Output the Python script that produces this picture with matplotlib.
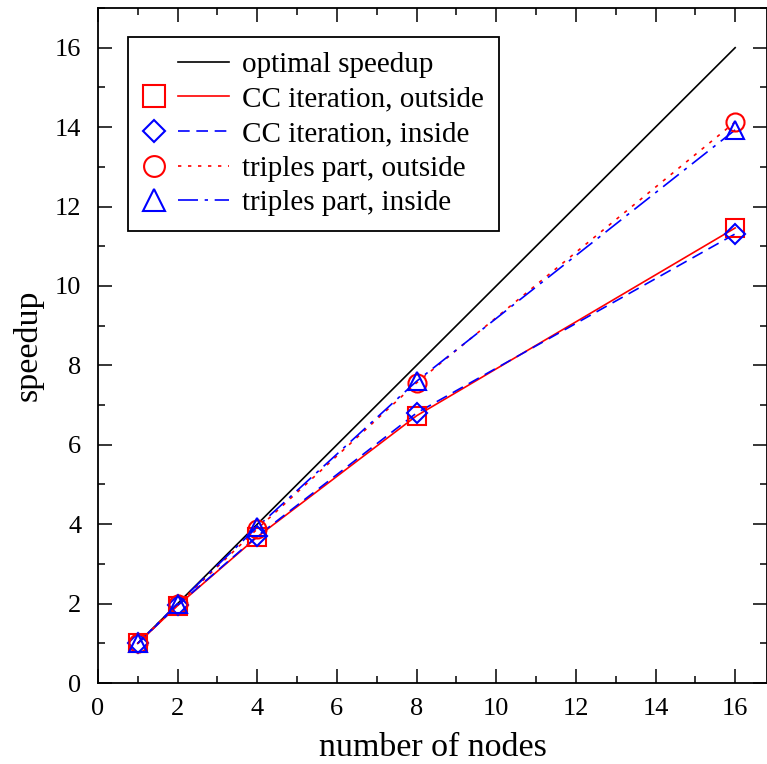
import matplotlib
matplotlib.use("Agg")
import matplotlib.pyplot as plt
from matplotlib.lines import Line2D
from matplotlib.legend_handler import HandlerBase
from matplotlib.ticker import MultipleLocator

nodes = [1, 2, 4, 8, 16]
optimal = [1, 2, 4, 8, 16]
cc_outside = [1.0, 1.95, 3.68, 6.73, 11.46]
cc_inside = [1.0, 1.96, 3.70, 6.80, 11.31]
tr_outside = [1.0, 1.98, 3.88, 7.56, 14.13]
tr_inside = [1.0, 2.0, 3.93, 7.60, 13.93]

labels = ["optimal speedup", "CC iteration, outside", "CC iteration, inside",
          "triples part, outside", "triples part, inside"]

plt.rcParams['font.family'] = ['Liberation Serif', 'DejaVu Serif']

fig = plt.figure(figsize=(7.67, 7.64), dpi=100)
ax = fig.add_axes([98/767, 1 - 683/764, 669/767, 675/764])

lw = 1.2
ms = 13
mew = 1.5
red = '#ff0000'
blue = '#0000ff'
ls_dash = (0, (7, 4))
ls_dot = (0, (2, 4))
ls_dashdot = (0, (12, 4, 2, 4))

ax.plot(nodes, optimal, color='black', lw=lw)
ax.plot(nodes, cc_outside, color=red, lw=lw, ls='-')
ax.plot(nodes, cc_inside, color=blue, lw=lw, ls=ls_dash)
ax.plot(nodes, tr_outside, color=red, lw=lw, ls=ls_dot)
ax.plot(nodes, tr_inside, color=blue, lw=lw, ls=ls_dashdot)

ax.plot(nodes, cc_outside, ls='none', marker='s', ms=ms, mfc='none', mec=red, mew=mew)
ax.plot(nodes, cc_inside, ls='none', marker='D', ms=ms*0.75, mfc='none', mec=blue, mew=mew)
ax.plot(nodes, tr_outside, ls='none', marker='o', ms=ms, mfc='none', mec=red, mew=mew)
ax.plot(nodes, tr_inside, ls='none', marker='^', ms=ms, mfc='none', mec=blue, mew=mew)

ax.set_xlim(0, 16.8)
ax.set_ylim(0, 17)
ax.xaxis.set_major_locator(MultipleLocator(2))
ax.xaxis.set_minor_locator(MultipleLocator(1))
ax.yaxis.set_major_locator(MultipleLocator(2))
ax.yaxis.set_minor_locator(MultipleLocator(1))
ax.tick_params(which='both', direction='in', top=True, right=True, labelsize=19, width=1.1)
ax.tick_params(which='major', length=10)
ax.tick_params(which='minor', length=5)
ax.tick_params(axis='x', pad=11)
ax.tick_params(axis='y', pad=12)
for s in ax.spines.values():
    s.set_linewidth(1.3)

ax.set_xlabel("number of nodes", fontsize=24.5, labelpad=9)
ax.set_ylabel("speedup", fontsize=24.5, labelpad=8)


class MarkerLineHandler(HandlerBase):
    def create_artists(self, legend, orig_handle, xdescent, ydescent, width, height,
                       fontsize, trans):
        marker, msize, color, ls = orig_handle
        y = height / 2 - ydescent
        artists = []
        l = Line2D([0.41 * width - xdescent, width - xdescent], [y, y],
                   color=color, lw=lw, ls=ls)
        l.set_transform(trans)
        artists.append(l)
        if marker is not None:
            m = Line2D([0.13 * width - xdescent], [y], ls='none', marker=marker,
                       ms=msize, mfc='none', mec=color, mew=mew)
            m.set_transform(trans)
            artists.append(m)
        return artists


handles = [
    (None, 0, 'black', '-'),
    ('s', 15.5, red, '-'),
    ('D', 11.5, blue, ls_dash),
    ('o', 15, red, ls_dot),
    ('^', 15.5, blue, ls_dashdot),
]
leg = ax.legend(handles, labels, handler_map={tuple: MarkerLineHandler()},
                loc='upper left', bbox_to_anchor=((128 - 98) / 669, 1 - (37 - 8) / 675),
                fontsize=21, fancybox=False, edgecolor='black', framealpha=1,
                handlelength=2.96, labelspacing=0.28, handletextpad=0.45,
                borderpad=0.5, borderaxespad=0)
leg.get_frame().set_linewidth(1.3)

fig.savefig("out.png", dpi=100)
